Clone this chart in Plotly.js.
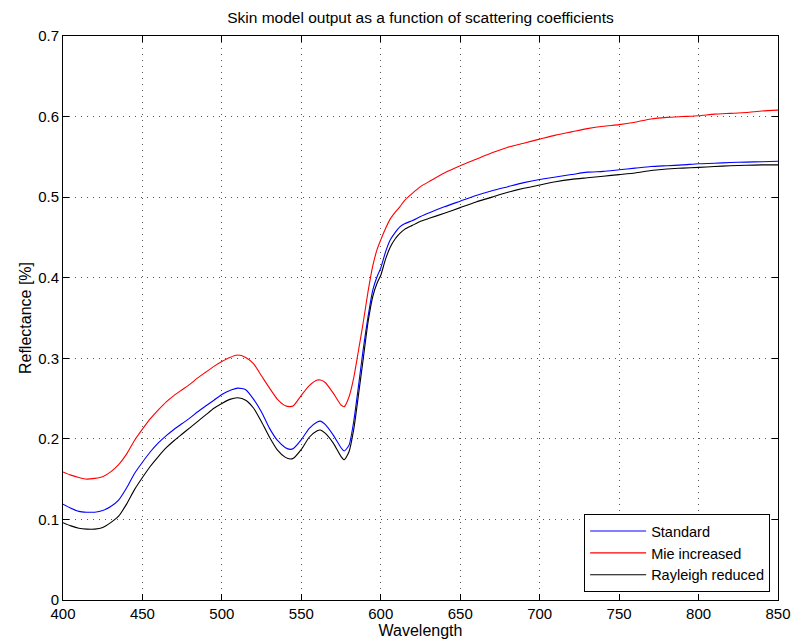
<!DOCTYPE html>
<html>
<head>
<meta charset="utf-8">
<script src="https://cdn.plot.ly/plotly-3.0.1.min.js"></script>
<style>html,body{margin:0;padding:0;background:#fff;}#chart{width:792px;height:641px;}</style>
</head>
<body>
<div id="chart"></div>
<script>
const wavelength = [400,405,410,415,420,425,430,435,440,445,450,455,460,465,470,475,480,485,490,495,500,505,510,515,520,525,530,535,540,543,545,550,555,560,562,565,570,575,577,580,583,586,589,592,595,598,600,603,606,609,612,615,620,625,631,640,650,660,670,680,690,700,710,720,730,740,750,760,770,780,790,800,810,820,830,840,850];

const standard = [0.119,0.114,0.110,0.109,0.109,0.111,0.116,0.124,0.139,0.157,0.171,0.184,0.195,0.204,0.212,0.219,0.226,0.234,0.241,0.248,0.255,0.260,0.263,0.261,0.249,0.233,0.213,0.198,0.189,0.187,0.188,0.199,0.213,0.221,0.222,0.218,0.205,0.189,0.185,0.192,0.222,0.266,0.312,0.352,0.385,0.403,0.412,0.432,0.447,0.456,0.463,0.467,0.471,0.476,0.481,0.488,0.495,0.502,0.508,0.513,0.518,0.522,0.525,0.528,0.531,0.532,0.534,0.536,0.538,0.539,0.540,0.5415,0.542,0.543,0.5435,0.544,0.5445];

const mieIncreased = [0.159,0.155,0.152,0.150,0.151,0.153,0.159,0.168,0.181,0.198,0.212,0.225,0.236,0.246,0.254,0.261,0.268,0.276,0.283,0.290,0.296,0.301,0.304,0.301,0.293,0.278,0.263,0.249,0.241,0.240,0.241,0.254,0.266,0.273,0.273,0.270,0.257,0.242,0.240,0.252,0.276,0.310,0.345,0.383,0.415,0.437,0.447,0.461,0.473,0.481,0.488,0.496,0.505,0.513,0.520,0.530,0.539,0.547,0.555,0.562,0.567,0.572,0.577,0.581,0.585,0.588,0.590,0.593,0.597,0.599,0.600,0.601,0.603,0.604,0.605,0.607,0.608];

const rayleighReduced = [0.096,0.092,0.089,0.088,0.088,0.090,0.096,0.104,0.119,0.137,0.152,0.166,0.178,0.189,0.198,0.206,0.214,0.222,0.230,0.238,0.244,0.249,0.251,0.248,0.238,0.221,0.202,0.186,0.177,0.175,0.176,0.187,0.202,0.210,0.211,0.207,0.195,0.178,0.174,0.184,0.212,0.255,0.300,0.345,0.377,0.395,0.403,0.423,0.438,0.448,0.455,0.460,0.465,0.470,0.474,0.480,0.487,0.494,0.500,0.506,0.511,0.515,0.519,0.522,0.524,0.526,0.528,0.530,0.533,0.535,0.536,0.537,0.538,0.539,0.5395,0.540,0.540];

const seriesNames = ['Standard','Mie increased','Rayleigh reduced'];
const seriesColors = ['#0000ff','#ff0000','#000000'];
const xTicks = [400,450,500,550,600,650,700,750,800,850];
const yTicks = [0,0.1,0.2,0.3,0.4,0.5,0.6,0.7];

const ys = [standard, mieIncreased, rayleighReduced];
const traces = ys.map((y,i)=>({
  x: wavelength, y: y, type:'scatter', mode:'lines', name: seriesNames[i],
  line:{color: seriesColors[i], width:1.1, shape:'spline', smoothing:0.6}
}));

const FONT = 'Liberation Sans, Arial, Helvetica, sans-serif';
const axisCommon = {
  showline:true, linecolor:'#000', linewidth:1, mirror:'ticks',
  ticks:'inside', ticklen:6, tickcolor:'#000', tickwidth:1,
  showgrid:true, gridcolor:'#555', griddash:'1px,5px', gridwidth:1,
  zeroline:false, automargin:false,
  tickfont:{family:FONT, size:15, color:'#000'}
};

const layout = {
  width:792, height:641,
  margin:{l:63, r:14, t:36, b:41},
  paper_bgcolor:'#fff', plot_bgcolor:'#fff',
  font:{family:FONT, color:'#000'},
  title:{text:'Skin model output as a function of scattering coefficients', font:{size:15.5, color:'#000'},
    xref:'paper', x:0.5, xanchor:'center', yref:'container', y:0.972, yanchor:'middle'},
  xaxis: Object.assign({}, axisCommon, {range:[400,850], tickvals:xTicks, ticktext:xTicks.map(String),
    ticklabelstandoff:0,
    title:{text:'Wavelength', font:{size:16}, standoff:0}}),
  yaxis: Object.assign({}, axisCommon, {range:[0,0.7], tickvals:yTicks, ticktext:yTicks.map(String),
    title:{text:'Reflectance [%]', font:{size:16}, standoff:2}}),
  showlegend:true,
  legend:{x:0.989, y:0.014, xanchor:'right', yanchor:'bottom', bgcolor:'#fff', bordercolor:'#000', borderwidth:1,
    font:{size:14.5, color:'#000'}, tracegroupgap:0, itemwidth:56}
};

Plotly.newPlot('chart', traces, layout, {displayModeBar:false, staticPlot:true});
</script>
</body>
</html>
